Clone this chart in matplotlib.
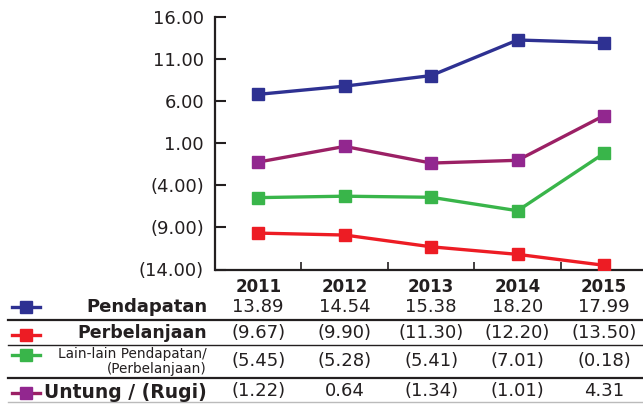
import matplotlib
matplotlib.use("Agg")
import matplotlib.pyplot as plt
import matplotlib.transforms as mtransforms
from matplotlib.lines import Line2D

# data
years = ["2011", "2012", "2013", "2014", "2015"]
pendapatan = [13.89, 14.54, 15.38, 18.20, 17.99]
perbelanjaan = [-9.67, -9.90, -11.30, -12.20, -13.50]
lain_lain = [-5.45, -5.28, -5.41, -7.01, -0.18]
untung = [-1.22, 0.64, -1.34, -1.01, 4.31]
y_ticks = [-14, -9, -4, 1, 6, 11, 16]

BLUE = "#2E3192"
RED = "#ED1C24"
GREEN = "#39B54A"
PURPLE = "#92278F"
PURPLE_LINE = "#9B2065"
INK = "#231F20"

W, H = 643, 405
plt.rcParams["font.family"] = ["DejaVu Sans"]

fig = plt.figure(figsize=(W / 100, H / 100), dpi=100)


def fx(px):
    return px / W


def fy(px):
    return 1 - px / H


def money(v):
    return "({:.2f})".format(-v) if v < 0 else "{:.2f}".format(v)


ax = fig.add_axes([fx(215), fy(269.5), fx(643 - 215), (269.5 - 17.3) / H])
x = list(range(len(years)))

ax.plot(x, perbelanjaan, color=RED, lw=2.4, marker="s", ms=8, zorder=3)
ax.plot(x, lain_lain, color=GREEN, lw=2.4, marker="s", ms=8, zorder=3)
ax.plot(x, untung, color=PURPLE_LINE, lw=2.4, marker="s", ms=8,
        mfc=PURPLE, mec=PURPLE, zorder=3)

ax.set_xlim(-0.5, 4.45)
ax.set_ylim(-14, 16)
ax.set_yticks(y_ticks)
ax.set_yticklabels([money(v) for v in y_ticks], fontsize=13, color=INK)
ax.tick_params(axis="y", direction="in", length=8, width=1.5, pad=8, colors=INK)
ax.set_xticks(x)
ax.set_xticklabels(years, fontsize=12, fontweight="bold", color=INK)
ax.tick_params(axis="x", length=0, pad=6)
ax.set_xticks([0.5, 1.5, 2.5, 3.5], minor=True)
ax.tick_params(axis="x", which="minor", direction="in", length=6, width=1.2,
               color=INK)
for s in ["top", "right"]:
    ax.spines[s].set_visible(False)
for s in ["left", "bottom"]:
    ax.spines[s].set_linewidth(1.6)
    ax.spines[s].set_color(INK)
ax.spines["bottom"].set_capstyle("butt")

# pendapatan sits on its own hidden 0..20 scale
ax2 = ax.twinx()
ax2.plot(x, pendapatan, color=BLUE, lw=2.4, marker="s", ms=8, zorder=3)
ax2.set_ylim(0, 20)
ax2.set_xlim(-0.5, 4.45)
ax2.axis("off")

# table under the chart
trans = mtransforms.blended_transform_factory(ax.transData, fig.transFigure)
rows = [
    (pendapatan, 307, BLUE, BLUE, 307),
    (perbelanjaan, 333, RED, RED, 335),
    (lain_lain, 361, GREEN, GREEN, 355),
    (untung, 391, PURPLE, PURPLE_LINE, 393),
]
for vals, ty, mc, lc, my in rows:
    for i, v in enumerate(vals):
        fig.text(i, fy(ty), money(v), transform=trans, ha="center",
                 va="center", fontsize=13, color=INK)
    fig.add_artist(Line2D([fx(12), fx(40)], [fy(my)] * 2, color=lc, lw=2.4,
                          marker="s", markevery=[], transform=fig.transFigure))
    fig.add_artist(Line2D([fx(26)], [fy(my)], color=mc, marker="s", ms=8,
                          ls="none", transform=fig.transFigure))

fig.text(fx(207), fy(307), "Pendapatan", ha="right", va="center",
         fontsize=13, fontweight="bold", color=INK)
fig.text(fx(207), fy(333), "Perbelanjaan", ha="right", va="center",
         fontsize=12.5, fontweight="bold", color=INK)
fig.text(fx(207), fy(354), "Lain-lain Pendapatan/", ha="right", va="center",
         fontsize=9.8, color=INK)
fig.text(fx(207), fy(369), "(Perbelanjaan)", ha="right", va="center",
         fontsize=9.8, color=INK)
fig.text(fx(207), fy(392), "Untung / (Rugi)", ha="right", va="center",
         fontsize=13.5, fontweight="bold", color=INK)

for py, lw, col in [(320, 1.6, INK), (345, 1.0, INK), (378, 1.6, INK),
                    (402, 1.0, "#BBBBBB")]:
    fig.add_artist(Line2D([fx(8), 1], [fy(py)] * 2, color=col, lw=lw,
                          transform=fig.transFigure))

fig.savefig("out.png", dpi=100)
